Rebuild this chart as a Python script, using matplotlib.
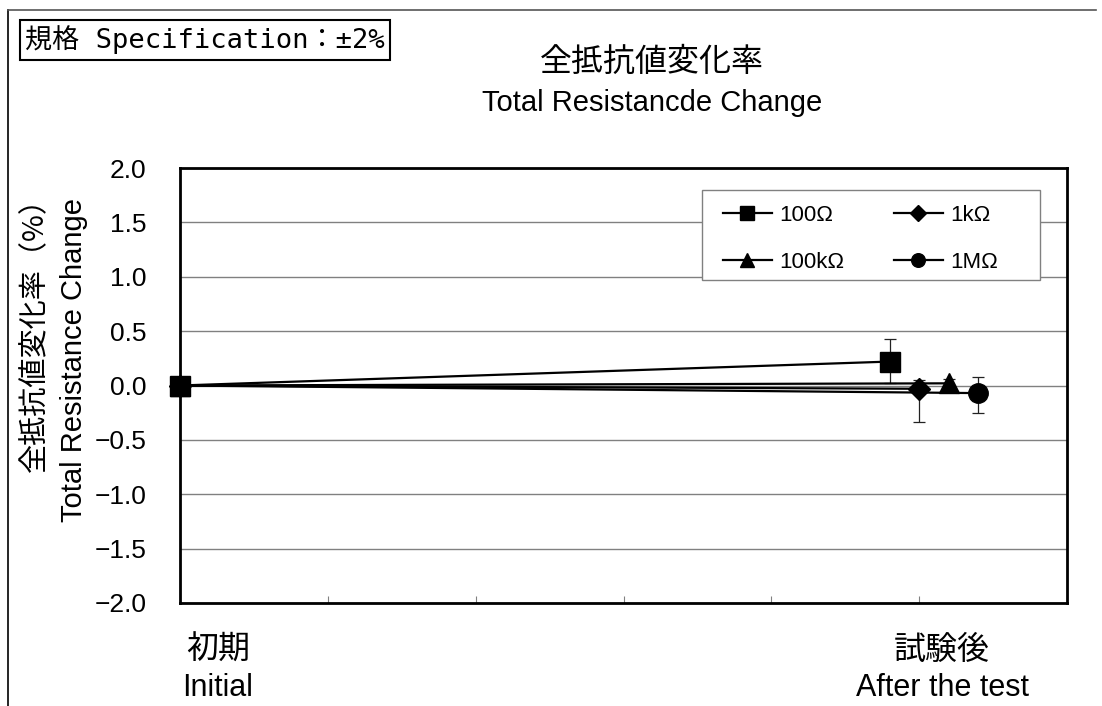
import matplotlib
matplotlib.use("Agg")
import matplotlib.pyplot as plt
from matplotlib.lines import Line2D
from matplotlib.patches import Rectangle

# ---- data ----
stage_labels_ja = ["初期", "試験後"]
stage_labels_en = ["Initial", "After the test"]
series_names = ["100Ω", "1kΩ", "100kΩ", "1MΩ"]
initial_values = [0.0, 0.0, 0.0, 0.0]
after_values = [0.22, -0.03, 0.02, -0.07]
after_err_lower = [0.20, 0.31, 0.02, 0.18]
after_err_upper = [0.21, 0.08, 0.04, 0.15]
y_ticks = [-2.0, -1.5, -1.0, -0.5, 0.0, 0.5, 1.0, 1.5, 2.0]

# ---- style ----
markers = ["s", "D", "^", "o"]
marker_sizes = [14.5, 11, 14, 14]
x_initial = 0
x_after = 5
x_offsets = [-0.2, 0.0, 0.2, 0.4]

W, H = 1102, 706
plt.rcParams['font.family'] = ['Liberation Sans', 'Noto Sans CJK JP']
fig = plt.figure(figsize=(W / 100, H / 100), dpi=100)
ax_l, ax_r, ax_t, ax_b = 180, 1067, 168, 603
ax = fig.add_axes([ax_l/W, 1-ax_b/H, (ax_r-ax_l)/W, (ax_b-ax_t)/H])

def ax_xy(px, py):
    return (px - ax_l) / (ax_r - ax_l), (ax_b - py) / (ax_b - ax_t)

for i in reversed(range(len(series_names))):
    xs = [x_initial, x_after + x_offsets[i]]
    ys = [initial_values[i], after_values[i]]
    ax.plot(xs, ys, color='black', lw=1.6, marker=markers[i], ms=marker_sizes[i],
            mfc='black', mec='black', zorder=3 + (4 - i), label=series_names[i], clip_on=False)
    ax.errorbar([xs[1]], [ys[1]], yerr=[[after_err_lower[i]], [after_err_upper[i]]],
                fmt='none', ecolor='#222222', elinewidth=0.9, capsize=4.5, capthick=0.9, zorder=2)

ax.set_xlim(0, 6)
ax.set_ylim(-2, 2)
ax.set_yticks(y_ticks)
ax.set_yticklabels([f"{v:.1f}".replace("-", "\u2212") for v in y_ticks], fontsize=19)
ax.set_xticks(range(0, 7))
ax.set_xticklabels([])
ax.tick_params(axis='x', direction='in', length=5, color='#808080', width=0.8)
ax.tick_params(axis='y', length=0, pad=24)
ax.yaxis.grid(True, color='#808080', lw=1)
ax.set_axisbelow(True)
for s in ax.spines.values():
    s.set_linewidth(2)
    s.set_color('black')
    s.set_zorder(2.5)

# legend frame
x0, y0 = ax_xy(702, 280)
x1, y1 = ax_xy(1040, 190)
ax.add_patch(Rectangle((x0, y0), x1 - x0, y1 - y0, transform=ax.transAxes,
                       fc='white', ec='#808080', lw=1, zorder=9))

# legend (row-wise order: 100Ω, 1kΩ / 100kΩ, 1MΩ)
leg_order = [0, 2, 1, 3]
handles = [Line2D([0], [0], color='black', lw=1.6, marker=markers[i], ms=marker_sizes[i] * 0.7,
                  mfc='black', mec='black') for i in leg_order]
labels = [series_names[i] for i in leg_order]
leg = ax.legend(handles, labels, ncol=2, loc='upper left',
                bbox_to_anchor=ax_xy(723, 205),
                fontsize=16, frameon=False, handlelength=2.2, handletextpad=0.35,
                borderpad=0, labelspacing=1.15, columnspacing=2.2, borderaxespad=0)
leg.set_zorder(10)

# titles
fig.text(652/W, 1-62/H, "全抵抗値変化率", ha='center', va='center', fontsize=23,
         family=['Noto Sans CJK JP'])
fig.text(652/W, 1-103/H, "Total Resistancde Change", ha='center', va='center', fontsize=21)

# spec box
fig.text(205/W, 1-40/H, "規格 Specification：±2%", ha='center', va='center', fontsize=19.5,
         family=['DejaVu Sans Mono', 'Noto Sans CJK JP'],
         bbox=dict(boxstyle='square,pad=0.2', fc='white', ec='black', lw=1.5))

# y labels
fig.text(35/W, 1-327/H, "全抵抗値変化率（%）", rotation=90, ha='center', va='center',
         fontsize=21, family=['Noto Sans CJK JP'])
fig.text(74/W, 1-360/H, "Total Resistance Change", rotation=90, ha='center', va='center',
         fontsize=21)

# category labels
cat_x_px = [218, 942]
for j in range(2):
    fig.text(cat_x_px[j]/W, 1-650/H, stage_labels_ja[j], ha='center', va='center',
             fontsize=23, family=['Noto Sans CJK JP'])
    fig.text(cat_x_px[j]/W, 1-688/H, stage_labels_en[j], ha='center', va='center',
             fontsize=22)

# outer frame (partial)
fig.add_artist(Line2D([8/W, 8/W], [0, 1-10/H], transform=fig.transFigure,
                      color='black', lw=1.2))
fig.add_artist(Line2D([8/W, 1096/W], [1-10/H, 1-10/H], transform=fig.transFigure,
                      color='#555555', lw=1.2))

fig.savefig("out.png", dpi=100)
